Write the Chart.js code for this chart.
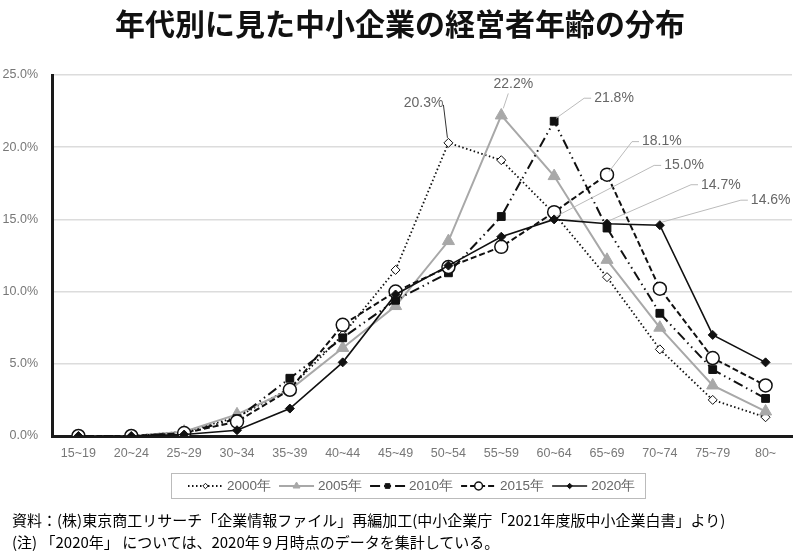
<!DOCTYPE html>
<html lang="ja">
<head>
<meta charset="utf-8">
<script src="https://cdn.jsdelivr.net/npm/chart.js@4.4.1/dist/chart.umd.min.js"></script>
<style>
    html, body { margin: 0; padding: 0; background: #fff; }
    #wrap { position: relative; width: 800px; height: 551px; overflow: hidden; }
    #title {
        position: absolute; left: 0; top: 6px; width: 800px; text-align: center;
        font-family: "Noto Sans CJK JP", sans-serif; font-weight: bold; font-size: 30px;
        line-height: 32px; color: #111;
    }
    .note {
        position: absolute; left: 12px; font-family: "Noto Sans CJK JP", sans-serif;
        font-size: 15px; line-height: 18px; color: #000; white-space: nowrap;
    }
    canvas { position: absolute; left: 0; top: 0; }
</style>
</head>
<body>
<div id="wrap">
    <canvas id="ageChart" width="800" height="551"></canvas>
    <div id="title">年代別に見た中小企業の経営者年齢の分布</div>
    <div class="note" style="top:511px">資料：(株)東京商工リサーチ「企業情報ファイル」再編加工(中小企業庁「2021年度版中小企業白書」より)</div>
    <div class="note" style="top:533px">(注) 「2020年」 については、2020年９月時点のデータを集計している。</div>
</div>
<script>
// age bands
const ageBands = ['15~19', '20~24', '25~29', '30~34', '35~39', '40~44', '45~49',
    '50~54', '55~59', '60~64', '65~69', '70~74', '75~79', '80~'];

// share of owners per band (%)
const share2000 = [0.0, 0.0, 0.3, 1.3, 3.3, 7.0, 11.5, 20.3, 19.1, 15.4, 11.0, 6.0, 2.5, 1.3];
const share2005 = [0.0, 0.0, 0.3, 1.5, 3.2, 6.1, 9.0, 13.5, 22.2, 18.0, 12.2, 7.5, 3.5, 1.7];
const share2010 = [0.0, 0.0, 0.2, 1.2, 4.0, 6.8, 9.4, 11.3, 15.2, 21.8, 14.4, 8.5, 4.6, 2.6];
const share2015 = [0.0, 0.0, 0.2, 1.0, 3.2, 7.7, 10.0, 11.7, 13.1, 15.5, 18.1, 10.2, 5.4, 3.5];
const share2020 = [0.0, 0.0, 0.1, 0.4, 1.9, 5.1, 9.8, 11.8, 13.8, 15.0, 14.7, 14.6, 7.0, 5.1];

const seriesNames = ['2000年', '2005年', '2010年', '2015年', '2020年'];
const yTicks = [0, 5, 10, 15, 20, 25];

// which points get a callout: [dataset index, band index]
const callouts = [[0, 7], [1, 8], [2, 9], [3, 10], [4, 9], [4, 10], [4, 11]];

const styles = [
    { color: '#111', width: 1.8, dash: [1.5, 2.5], point: 'rectRot', radius: 4.5, fill: '#fff', pbw: 1 },
    { color: '#a8a8a8', width: 2, dash: [], point: 'triangle', radius: 7, fill: '#a8a8a8', pbw: 1 },
    { color: '#111', width: 2, dash: [10, 4, 1.5, 4, 1.5, 4], point: 'rect', radius: 5.5, fill: '#111', pbw: 1 },
    { color: '#111', width: 2, dash: [6, 3], point: 'circle', radius: 6.5, fill: '#fff', pbw: 1.5 },
    { color: '#111', width: 1.6, dash: [], point: 'rectRot', radius: 4.5, fill: '#111', pbw: 1 }
];

const allShares = [share2000, share2005, share2010, share2015, share2020];

const datasets = allShares.map((vals, i) => ({
    label: seriesNames[i],
    data: vals,
    borderColor: styles[i].color,
    borderWidth: styles[i].width,
    borderDash: styles[i].dash,
    pointStyle: styles[i].point,
    pointRadius: styles[i].radius,
    pointBackgroundColor: styles[i].fill,
    pointBorderColor: styles[i].color,
    pointBorderWidth: styles[i].pbw,
    tension: 0,
    fill: false,
    order: 5 - i
}));

// callout text + leader lines, placed relative to the data point
const calloutPlugin = {
    id: 'callouts',
    afterDatasetsDraw(chart) {
        const ctx = chart.ctx;
        // offsets of label relative to point: [dx, dy, align]
        const offs = [[-5, -40, 'right'], [12, -31, 'center'], [40, -23, 'left'],
            [35, -33, 'left'], [110, -54, 'left'], [94, -39, 'left'], [91, -25, 'left']];
        ctx.save();
        ctx.font = '14px "Liberation Sans", Arial, sans-serif';
        ctx.textBaseline = 'middle';
        callouts.forEach(([ds, idx], k) => {
            const pt = chart.getDatasetMeta(ds).data[idx];
            const px = pt.x, py = pt.y;
            const [dx, dy, align] = offs[k];
            const tx = px + dx, ty = py + dy;
            ctx.beginPath();
            ctx.lineWidth = 1;
            if (align === 'right') {
                ctx.strokeStyle = '#333';
                ctx.moveTo(tx, ty + 2);
                ctx.lineTo(px - 1, py - 5);
            } else if (align === 'center') {
                ctx.strokeStyle = '#bbb';
                ctx.moveTo(tx - 5, ty + 9);
                ctx.lineTo(px + 2, py - 7);
            } else {
                ctx.strokeStyle = '#bbb';
                ctx.moveTo(tx - 3, ty);
                ctx.lineTo(tx - 10, ty);
                ctx.lineTo(px + 2, py - 3);
            }
            ctx.stroke();
            ctx.fillStyle = '#666';
            ctx.textAlign = align;
            ctx.fillText(allShares[ds][idx].toFixed(1) + '%', tx, ty);
        });
        ctx.restore();
    }
};

// legend box under the axis, line sample + marker + name
const legendPlugin = {
    id: 'boxLegend',
    afterDraw(chart) {
        const ctx = chart.ctx;
        const boxX = 171.5, boxY = 473.5, boxW = 474, boxH = 25;
        const midY = boxY + boxH / 2;
        ctx.save();
        ctx.setLineDash([1, 1]);
        ctx.strokeStyle = '#777';
        ctx.lineWidth = 1;
        ctx.strokeRect(boxX, boxY, boxW, boxH);
        ctx.font = '13.5px "Liberation Sans", Arial, sans-serif';
        ctx.textBaseline = 'middle';
        ctx.textAlign = 'left';
        let x = 188;
        chart.data.datasets.forEach((d, i) => {
            const st = styles[i];
            const w = 35;
            ctx.beginPath();
            ctx.setLineDash(st.dash);
            ctx.strokeStyle = st.color;
            ctx.lineWidth = st.width;
            ctx.moveTo(x, midY);
            ctx.lineTo(x + w, midY);
            ctx.stroke();
            ctx.setLineDash([]);
            ctx.fillStyle = st.fill;
            ctx.strokeStyle = st.color;
            ctx.lineWidth = st.pbw;
            Chart.helpers.drawPoint(ctx, {
                pointStyle: st.point, radius: Math.min(st.radius * 0.6, 4), rotation: 0, borderWidth: st.pbw
            }, x + w / 2, midY);
            ctx.fillStyle = '#666';
            ctx.fillText(d.label, x + w + 4, midY);
            x += w + 4 + ctx.measureText(d.label).width + 8;
        });
        ctx.restore();
    }
};

new Chart(document.getElementById('ageChart'), {
    type: 'line',
    data: { labels: ageBands, datasets: datasets },
    options: {
        responsive: false,
        animation: false,
        layout: { padding: { top: 75, bottom: 85, left: 0, right: 0 } },
        plugins: {
            legend: { display: false },
            tooltip: { enabled: false }
        },
        scales: {
            x: {
                offset: true,
                grid: { display: false, drawTicks: false },
                border: { display: true, color: '#1a1a1a', width: 3 },
                ticks: {
                    color: '#777', padding: 10,
                    font: { family: '"Liberation Sans", Arial, sans-serif', size: 12.5 },
                    maxRotation: 0, autoSkip: false
                },
                afterFit: s => { s.height = 30; }
            },
            y: {
                min: 0,
                max: 25,
                afterBuildTicks: s => { s.ticks = yTicks.map(v => ({ value: v })); },
                grid: { color: '#dcdcdc', lineWidth: 1.5, drawTicks: false },
                border: { display: true, color: '#1a1a1a', width: 3 },
                ticks: {
                    color: '#777', padding: 14,
                    font: { family: '"Liberation Sans", Arial, sans-serif', size: 12.5 },
                    callback: v => v.toFixed(1) + '%'
                },
                afterFit: s => { s.width = 52; }
            }
        }
    },
    plugins: [calloutPlugin, legendPlugin]
});
</script>
</body>
</html>
